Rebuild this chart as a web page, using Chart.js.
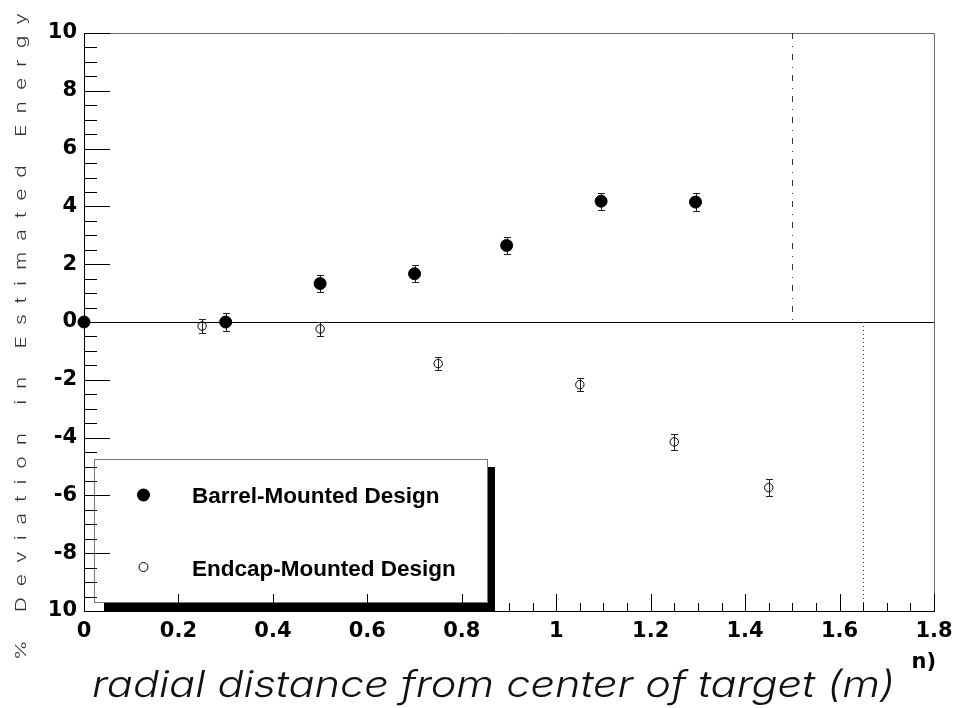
<!DOCTYPE html>
<html>
<head>
<meta charset="utf-8">
<script src="https://cdn.jsdelivr.net/npm/chart.js@4"></script>
<style>
  html, body { margin: 0; padding: 0; background: #fff; }
  #c { display: block; }
</style>
</head>
<body>
<canvas id="c" width="956" height="708"></canvas>
<script>
// Energy deviation vs. radial distance, two detector layouts
const barrelX   = [0, 0.3, 0.5, 0.7, 0.895, 1.095, 1.295];
const barrelY   = [0, 0, 1.33, 1.67, 2.65, 4.18, 4.15];
const barrelErr = [0, 0.3, 0.3, 0.3, 0.3, 0.3, 0.3];

const endcapX   = [0.25, 0.5, 0.75, 1.05, 1.25, 1.45];
const endcapY   = [-0.14, -0.24, -1.44, -2.17, -4.15, -5.73];
const endcapErr = [0.25, 0.25, 0.23, 0.23, 0.27, 0.29];

const seriesNames = ['Barrel-Mounted Design', 'Endcap-Mounted Design'];
const xTickLabels = ['0', '0.2', '0.4', '0.6', '0.8', '1', '1.2', '1.4', '1.6', '1.8'];
const yTickLabels = ['10', '-8', '-6', '-4', '-2', '0', '2', '4', '6', '8', '10'];
const dashDotX = 1.5;   // upper half marker
const dottedX = 1.65;   // lower half marker
const xTitle = 'radial distance from center of target (m)';
const xTitleTail = 'n)';
const yTitle = '% Deviation in Estimated Energy';

const TICK_FAMILY = '"DejaVu Sans", Verdana, sans-serif';
const LEGEND_FONT = 'bold 22.5px "Liberation Sans", Arial, sans-serif';
const THIN_FAMILY = 'Inter, "Noto Sans", sans-serif';

function pts(xs, ys) { return xs.map((x, i) => ({ x: x, y: ys[i] })); }
function px(v) { return Math.round(v) + 0.5; }

// error bars (drawn under the markers)
const errorBars = {
  id: 'errorBars',
  beforeDatasetsDraw(chart) {
    const ctx = chart.ctx, ys = chart.scales.y;
    const errs = [barrelErr, endcapErr];
    const caps = [3.5, 3.5];
    ctx.save();
    ctx.strokeStyle = '#222';
    ctx.lineWidth = 1;
    chart.data.datasets.forEach((ds, di) => {
      const meta = chart.getDatasetMeta(di);
      meta.data.forEach((el, i) => {
        const e = errs[di][i];
        if (!e) return;
        const yv = ds.data[i].y;
        const top = Math.round(ys.getPixelForValue(yv + e)) + 0.5;
        const bot = Math.round(ys.getPixelForValue(yv - e)) + 0.5;
        const x = px(el.x);
        ctx.beginPath();
        ctx.moveTo(x, top);
        ctx.lineTo(x, bot);
        ctx.moveTo(x - caps[di], top);
        ctx.lineTo(x + caps[di], top);
        ctx.moveTo(x - caps[di], bot);
        ctx.lineTo(x + caps[di], bot);
        ctx.stroke();
      });
    });
    ctx.restore();
  }
};

// frame, zero line, reference lines and the legend box
const backdrop = {
  id: 'backdrop',
  beforeDatasetsDraw(chart) {
    const ctx = chart.ctx, a = chart.chartArea;
    const xs = chart.scales.x, ys = chart.scales.y;
    ctx.save();
    ctx.lineWidth = 1;

    // top and right frame
    ctx.strokeStyle = '#6a6a6a';
    ctx.beginPath();
    ctx.moveTo(px(a.left), px(a.top));
    ctx.lineTo(px(a.right), px(a.top));
    ctx.lineTo(px(a.right), px(a.bottom));
    ctx.stroke();

    // zero line
    const y0 = px(ys.getPixelForValue(0));
    ctx.strokeStyle = '#000';
    ctx.beginPath();
    ctx.moveTo(a.left, y0);
    ctx.lineTo(a.right, y0);
    ctx.stroke();

    // dash-dot marker above zero
    const xa = px(xs.getPixelForValue(dashDotX));
    ctx.strokeStyle = '#333';
    ctx.setLineDash([6, 7, 1, 7]);
    ctx.beginPath();
    ctx.moveTo(xa, ys.getPixelForValue(10));
    ctx.lineTo(xa, ys.getPixelForValue(0));
    ctx.stroke();

    // dotted marker below zero
    const xb = px(xs.getPixelForValue(dottedX));
    ctx.setLineDash([1, 3]);
    ctx.beginPath();
    ctx.moveTo(xb, ys.getPixelForValue(0));
    ctx.lineTo(xb, ys.getPixelForValue(-10));
    ctx.stroke();
    ctx.setLineDash([]);

    // legend: shadow, box, entries
    ctx.fillStyle = '#000';
    ctx.fillRect(488, 467, 7, 144);
    ctx.fillRect(104, 603, 391, 8);
    ctx.fillStyle = '#fff';
    ctx.fillRect(94, 459, 394, 144);
    ctx.strokeStyle = '#777';
    ctx.strokeRect(94.5, 459.5, 393, 143);

    ctx.fillStyle = '#000';
    ctx.beginPath();
    ctx.arc(143.5, 495, 6.5, 0, Math.PI * 2);
    ctx.fill();
    ctx.strokeStyle = '#000';
    ctx.beginPath();
    ctx.arc(143.5, 567, 4.5, 0, Math.PI * 2);
    ctx.stroke();

    ctx.font = LEGEND_FONT;
    ctx.textAlign = 'left';
    ctx.textBaseline = 'alphabetic';
    ctx.fillText(seriesNames[0], 192, 503);
    ctx.fillText(seriesNames[1], 192, 576);
    ctx.restore();
  }
};

// axes with inward ticks, plus the axis titles
const axesAndTitles = {
  id: 'axesAndTitles',
  afterDatasetsDraw(chart) {
    const ctx = chart.ctx, a = chart.chartArea;
    const xs = chart.scales.x, ys = chart.scales.y;
    ctx.save();
    ctx.lineWidth = 1;
    ctx.strokeStyle = '#000';
    ctx.beginPath();
    ctx.moveTo(px(a.left), a.top);
    ctx.lineTo(px(a.left), px(a.bottom));
    ctx.lineTo(a.right + 1, px(a.bottom));
    // y ticks every 0.5, major every 2
    for (let i = 0; i <= 40; i++) {
      const v = -10 + i * 0.5;
      const y = px(ys.getPixelForValue(v));
      const len = (i % 4 === 0) ? 26 : 13;
      ctx.moveTo(a.left, y);
      ctx.lineTo(a.left + len, y);
    }
    // x ticks every 0.05, major every 0.2
    for (let i = 0; i <= 36; i++) {
      const v = i * 0.05;
      const x = px(xs.getPixelForValue(v));
      const len = (i % 4 === 0) ? 17 : 8;
      ctx.moveTo(x, a.bottom);
      ctx.lineTo(x, a.bottom - len);
    }
    ctx.stroke();
    ctx.restore();
  },
  afterDraw(chart) {
    const ctx = chart.ctx;
    ctx.save();

    // y title: light, widely spaced, reading upward
    ctx.font = '300 15px ' + THIN_FAMILY;
    ctx.fillStyle = '#333';
    const sx = 1.4;
    const chars = Array.from(yTitle);
    const natural = chars.reduce((s, c) => s + ctx.measureText(c).width * sx, 0);
    const span = 647;
    const gap = (span - natural) / (chars.length - 1);
    ctx.translate(25.5, 660);
    ctx.rotate(-Math.PI / 2);
    ctx.textBaseline = 'alphabetic';
    ctx.textAlign = 'left';
    let cur = 0;
    chars.forEach(c => {
      ctx.save();
      ctx.translate(cur, 0);
      ctx.scale(sx, 1);
      ctx.fillText(c, 0, 0);
      ctx.restore();
      cur += ctx.measureText(c).width * sx + gap;
    });
    ctx.setTransform(1, 0, 0, 1, 0, 0);

    // x title: light italic, stretched a little to span 803px
    ctx.font = 'italic 300 37px ' + THIN_FAMILY;
    const w = ctx.measureText(xTitle).width;
    const stretch = 803 / w;
    ctx.fillStyle = '#111';
    ctx.textAlign = 'center';
    ctx.translate(493.5, 697);
    ctx.scale(stretch, 1);
    ctx.fillText(xTitle, 0, 0);
    ctx.setTransform(1, 0, 0, 1, 0, 0);

    // clipped remainder of the bold axis label
    ctx.font = 'bold 21px ' + TICK_FAMILY;
    ctx.fillStyle = '#000';
    ctx.textAlign = 'right';
    ctx.fillText(xTitleTail, 936, 668);
    ctx.restore();
  }
};

new Chart(document.getElementById('c'), {
  type: 'scatter',
  data: {
    datasets: [
      {
        label: seriesNames[0],
        data: pts(barrelX, barrelY),
        pointStyle: 'circle',
        pointRadius: 6,
        pointBackgroundColor: '#000',
        pointBorderColor: '#000',
        pointBorderWidth: 1,
        clip: false
      },
      {
        label: seriesNames[1],
        data: pts(endcapX, endcapY),
        pointStyle: 'circle',
        pointRadius: 4.2,
        pointBackgroundColor: 'rgba(0,0,0,0)',
        pointBorderColor: '#000',
        pointBorderWidth: 1,
        clip: false
      }
    ]
  },
  options: {
    responsive: false,
    animation: false,
    devicePixelRatio: 1,
    layout: { padding: { top: 33, right: 22, left: 0, bottom: 0 } },
    plugins: { legend: { display: false }, tooltip: { enabled: false } },
    scales: {
      x: {
        type: 'linear',
        min: 0, max: 1.8,
        grid: { display: false, drawTicks: false },
        border: { display: false },
        afterFit(scale) {
          scale.height = 97;
          scale.paddingLeft = 0;
          scale.paddingRight = 0;
        },
        afterBuildTicks(scale) {
          scale.ticks = xTickLabels.map((t, i) => ({ value: i * 0.2 }));
        },
        ticks: {
          autoSkip: false, maxRotation: 0, padding: 8,
          color: '#000', font: { family: TICK_FAMILY, size: 21, weight: 'bold' },
          callback: (v, i) => xTickLabels[i]
        }
      },
      y: {
        type: 'linear',
        min: -10, max: 10,
        grid: { display: false, drawTicks: false },
        border: { display: false },
        afterFit(scale) {
          scale.width = 84;
          scale.paddingTop = 0;
          scale.paddingBottom = 0;
        },
        afterBuildTicks(scale) {
          scale.ticks = yTickLabels.map((t, i) => ({ value: -10 + i * 2 }));
        },
        ticks: {
          autoSkip: false, padding: 7,
          color: '#000', font: { family: TICK_FAMILY, size: 21, weight: 'bold' },
          callback: (v, i) => yTickLabels[i]
        }
      }
    }
  },
  plugins: [backdrop, errorBars, axesAndTitles]
});
</script>
</body>
</html>
